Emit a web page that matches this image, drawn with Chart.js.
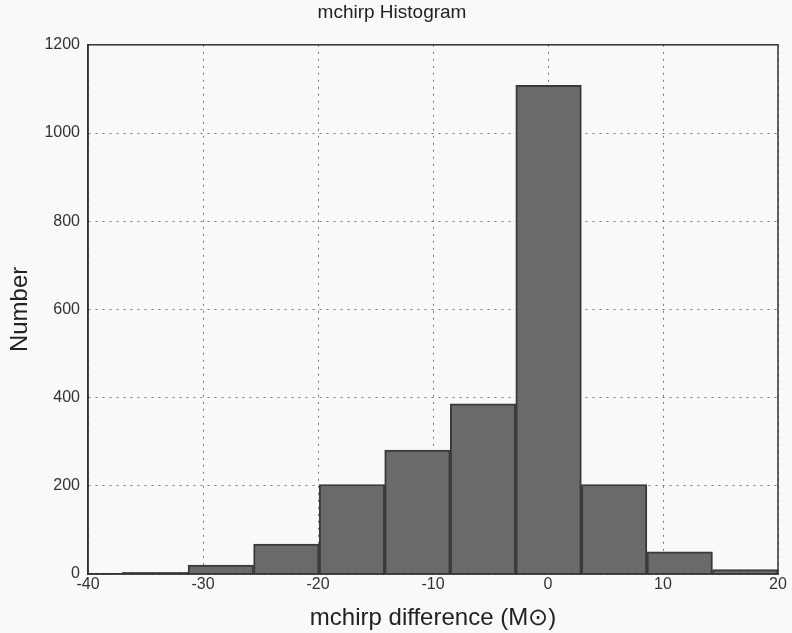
<!DOCTYPE html>
<html>
<head>
<meta charset="utf-8">
<script src="https://cdn.jsdelivr.net/npm/chart.js@4"></script>
<style>
  body { margin: 0; background: #f9f9f9; }
  canvas { display: block; }
</style>
</head>
<body>
<canvas id="hist" width="792" height="633"></canvas>
<script>
// bin centres (mchirp difference) and counts
const binCenters = [-34.15, -28.45, -22.75, -17.05, -11.35, -5.65, 0.05, 5.75, 11.45, 17.15];
const counts = [4, 20, 68, 203, 281, 386, 1108, 203, 50, 10];
const xTicks = [-40, -30, -20, -10, 0, 10, 20];
const yTicks = [0, 200, 400, 600, 800, 1000, 1200];

const points = binCenters.map((c, i) => ({ x: c, y: counts[i] }));

// draw the closed frame around the plot (top + right edges)
const frame = {
  id: 'frame',
  afterDraw(chart) {
    const a = chart.chartArea;
    const ctx = chart.ctx;
    ctx.save();
    ctx.strokeStyle = '#333';
    ctx.lineWidth = 1.5;
    ctx.strokeRect(a.left, a.top, a.right - a.left, a.bottom - a.top);
    ctx.restore();
  }
};

new Chart(document.getElementById('hist'), {
  type: 'bar',
  data: {
    datasets: [{
      data: points,
      backgroundColor: '#6a6a6a',
      borderColor: '#3a3a3a',
      borderWidth: 2,
      barPercentage: 1,
      categoryPercentage: 1
    }]
  },
  options: {
    responsive: false,
    animation: false,
    devicePixelRatio: 1,
    layout: { padding: { left: 6, right: 14, top: 0, bottom: 0 } },
    plugins: {
      legend: { display: false },
      tooltip: { enabled: false },
      title: {
        display: true,
        text: 'mchirp Histogram',
        color: '#222',
        font: { family: 'Liberation Sans', size: 19, weight: 'normal' },
        padding: { top: 1, bottom: 21 }
      }
    },
    scales: {
      x: {
        type: 'linear',
        min: -40,
        max: 20,
        offset: false,
        z: 1,
        afterBuildTicks: (s) => { s.ticks = xTicks.map(v => ({ value: v })); },
        afterFit: (s) => { s.height = 59; },
        ticks: {
          color: '#333',
          font: { family: 'Liberation Sans', size: 16 },
          padding: 1,
          maxRotation: 0,
          callback: (v) => String(v)
        },
        grid: { color: '#777', lineWidth: 1, drawTicks: false, offset: false },
        border: { display: true, color: '#333', width: 1.5, dash: [2, 5] },
        title: {
          display: true,
          text: 'mchirp difference (M\u2299)',
          color: '#222',
          font: { family: 'Liberation Sans', size: 24 },
          padding: { top: -2, bottom: 0 }
        }
      },
      y: {
        min: 0,
        max: 1200,
        z: 1,
        afterBuildTicks: (s) => { s.ticks = yTicks.map(v => ({ value: v })); },
        afterFit: (s) => { s.width = 82; },
        ticks: {
          color: '#333',
          font: { family: 'Liberation Sans', size: 16 },
          padding: 8,
          callback: (v) => String(v)
        },
        grid: { color: '#777', lineWidth: 1, drawTicks: false },
        border: { display: true, color: '#333', width: 1.5, dash: [2, 5] },
        title: {
          display: true,
          text: 'Number',
          color: '#222',
          font: { family: 'Liberation Sans', size: 24 },
          padding: { top: 0, bottom: 0 }
        }
      }
    }
  },
  plugins: [frame]
});
</script>
</body>
</html>
